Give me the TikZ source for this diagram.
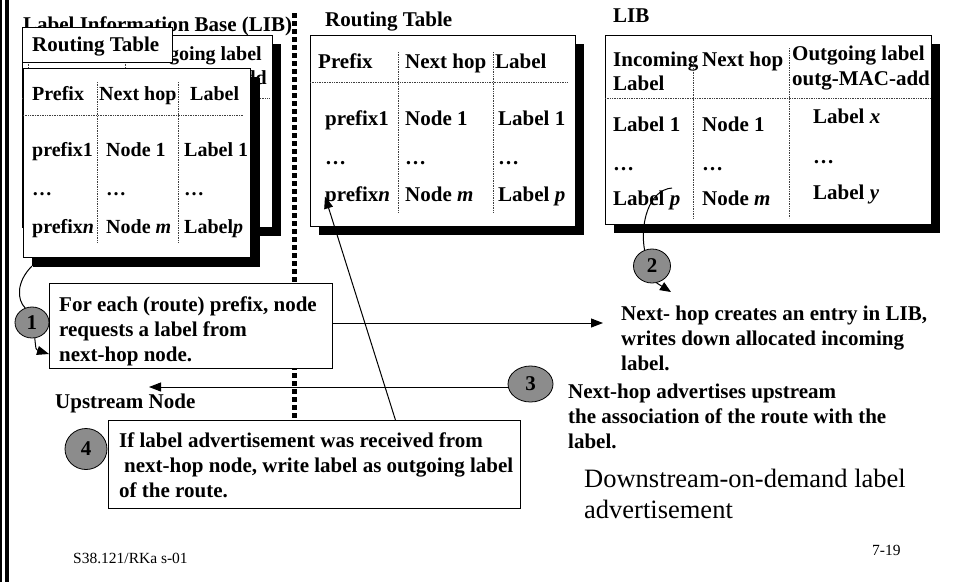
\documentclass[tikz,border=0pt]{standalone}
\usepackage{fontspec}
\setmainfont{Liberation Serif}
\usetikzlibrary{arrows.meta,shapes.geometric,shadows,positioning}

\newcommand{\msgfont}{\fontsize{21}{25}\selectfont\bfseries}
\newcommand{\smtabfont}{\fontsize{20}{24}\selectfont\bfseries}
\newcommand{\bigfont}{\fontsize{26.5}{31}\selectfont}
\newcommand{\footfont}{\fontsize{15.5}{18}\selectfont}

\begin{document}
\begin{tikzpicture}
  [x=1pt,y=-1pt,
   every node/.style={inner sep=0pt},
   cell/.style={font=\msgfont,anchor=base west},
   lcell/.style={font=\smtabfont,anchor=base west},
   txt/.style={font=\msgfont,align=left,anchor=north west},
   tbl/.style={draw,fill=white,line width=0.9pt,anchor=north west,
     drop shadow={shadow xshift=9pt,shadow yshift=-9pt,opacity=1,fill=black}},
   sep/.style={densely dotted,line width=0.7pt,black!75},
   numdot/.style={ellipse,draw,fill=black!45,line width=0.8pt,font=\msgfont},
   msgbox/.style={draw,fill=white,line width=0.9pt,anchor=north west},
   link/.style={line width=1pt},
   arr/.style={line width=1pt,-{Triangle[length=12pt,width=9pt]}}]
  \useasboundingbox (0,0) rectangle (953,582);

  % page frame
  \draw[line width=1.5pt] (0.75,0) -- (0.75,582);
  \draw[line width=4pt] (7,0) -- (7,582);

  % upstream node: LIB behind routing table
  \node[cell] (lib-ttl) at (23,31.7) {Label Information Base (LIB)};
  \node[tbl,minimum width=250pt,minimum height=192pt] (bt) at (22,35) {};
  \node[lcell,anchor=base east] (bt-out) at (262,60) {Outgoing label};
  \node[lcell,anchor=base east] (bt-mac) at (267,84) {outg-MAC-add};
  \draw[sep] (22,98) -- (269,98);
  \foreach \x in {28,125}
    \draw[sep] (\x,50) -- (\x,222);

  \node[msgbox,minimum width=150pt,minimum height=35pt] (ft-ttlbox) at (22,27) {};
  \node[cell] (ft-ttl) at (32,51.5) {Routing Table};

  \node[tbl,minimum width=227pt,minimum height=189pt,
    drop shadow={shadow xshift=10pt,shadow yshift=-10pt,opacity=1,fill=black}] (ft) at (23,68) {};
  \node[lcell] (ft-h1) at (32,100.7) {Prefix};
  \node[lcell] (ft-h2) at (99,100.7) {Next hop};
  \node[lcell] (ft-h3) at (190,100.7) {Label};
  \node[lcell] (ft-p1) at (32,156.7) {prefix1};
  \node[lcell] (ft-n1) at (106,156.7) {Node 1};
  \node[lcell] (ft-l1) at (184,156.7) {Label 1};
  \node[lcell] (ft-d1) at (32,195) {…};
  \node[lcell] (ft-d2) at (106,195) {…};
  \node[lcell] (ft-d3) at (184,195) {…};
  \node[lcell] (ft-pn) at (32,233) {prefix\textit{n}};
  \node[lcell] (ft-nm) at (106,233) {Node \textit{m}};
  \node[lcell] (ft-lp) at (184,233) {Label\textit{p}};
  \draw[sep] (23,115) -- (243,115);
  \foreach \x in {97,178}
    \draw[sep] (\x,82) -- (\x,243);

  % divider
  \draw[line width=4.5pt,dash pattern=on 4.5pt off 3.5pt] (294.5,13) -- (294.5,508);

  % downstream node: routing table
  \node[cell] (mt-ttl) at (325,26.7) {Routing Table};
  \node[tbl,minimum width=265pt,minimum height=191pt] (mt) at (310,35) {};
  \node[cell] (mt-h1) at (318,68.3) {Prefix};
  \node[cell] (mt-h2) at (405,68.3) {Next hop};
  \node[cell] (mt-h3) at (495,68.3) {Label};
  \node[cell] (mt-p1) at (325,125) {prefix1};
  \node[cell] (mt-n1) at (405,125) {Node 1};
  \node[cell] (mt-l1) at (498,125) {Label 1};
  \node[cell] (mt-d1) at (325,164) {…};
  \node[cell] (mt-d2) at (405,164) {…};
  \node[cell] (mt-d3) at (498,164) {…};
  \node[cell] (mt-pn) at (325,201.7) {prefix\textit{n}};
  \node[cell] (mt-nm) at (405,201.7) {Node \textit{m}};
  \node[cell] (mt-lp) at (498,201.7) {Label \textit{p}};
  \draw[sep] (310,82) -- (567,82);
  \foreach \x in {398,493}
    \draw[sep] (\x,52) -- (\x,212);

  % downstream node: LIB
  \node[cell] (rt-ttl) at (613,22.7) {LIB};
  \node[tbl,minimum width=326pt,minimum height=189pt] (rt) at (605,35) {};
  \node[cell] (rt-h1) at (613,66.7) {Incoming};
  \node[cell] (rt-h1b) at (613,90.7) {Label};
  \node[cell] (rt-h2) at (702,66.7) {Next hop};
  \node[cell] (rt-h3) at (792,60) {Outgoing label};
  \node[cell] (rt-h3b) at (792,85) {outg-MAC-add};
  \node[cell] (rt-i1) at (613,131.7) {Label 1};
  \node[cell] (rt-n1) at (702,131.7) {Node 1};
  \node[cell] (rt-o1) at (813,123.3) {Label \textit{x}};
  \node[cell] (rt-d1) at (613,170) {…};
  \node[cell] (rt-d2) at (702,170) {…};
  \node[cell] (rt-d3) at (813,163.3) {…};
  \node[cell] (rt-ip) at (613,205) {Label \textit{p}};
  \node[cell] (rt-nm) at (702,205) {Node \textit{m}};
  \node[cell] (rt-oy) at (813,199.3) {Label \textit{y}};
  \draw[sep] (605,98) -- (931,98);
  \draw[sep] (693,63) -- (693,218);
  \draw[sep] (789,48) -- (789,218);

  % step 1
  \node[msgbox,minimum width=283pt,minimum height=85pt] (req) at (49,283) {};
  \node[txt] (req-t) at (59,297) {For each (route) prefix, node\\requests a label from\\next-hop node.};
  \coordinate (ft-out) at (32,266);
  \coordinate (req-in) at (49,354);
  \node[numdot,minimum width=34pt,minimum height=31pt] (c1) at (32,322.5) {1};
  \draw[link] (ft-out) .. controls (16,282) and (17,300) .. (c1.115);
  \draw[arr] (c1.-80) .. controls (36,350) .. (req-in);
  \coordinate (nh) at (603,323);
  \draw[arr] (req.east |- nh) -- (nh);

  % step 2
  \node[txt] (nh-txt) at (621,306) {Next- hop creates an entry in LIB,\\writes down allocated incoming\\label.};
  \coordinate (lp) at (672,188);
  \coordinate (nh-t) at (671,292);
  \node[numdot,minimum width=37pt,minimum height=34pt] (c2) at (652,266) {2};
  \draw[link] (lp) .. controls (648,190) and (640,225) .. (c2.115);
  \draw[line width=1pt,-{Triangle[length=11pt,width=9pt]}] (c2.-75) -- (nh-t);

  % step 3
  \node[numdot,minimum width=45pt,minimum height=36pt] (c3) at (530.5,384) {3};
  \coordinate (up) at (149,387);
  \draw[arr] (c3.west |- up) -- (up);
  \node[cell] (upn) at (55,408) {Upstream Node};
  \node[txt] (adv-txt) at (568,384) {Next-hop advertises upstream\\the association of the route with the\\label.};

  % step 4
  \node[numdot,minimum width=42pt,minimum height=41pt] (c4) at (86,449) {4};
  \node[msgbox,minimum width=412pt,minimum height=88pt] (dec) at (108,420) {};
  \node[txt] (dec-t) at (119,433) {If label advertisement was received from\\\hspace*{5pt}next-hop node, write label as outgoing label\\of the route.};
  \draw[arr] ([xshift=81pt]dec.north) -- (mt-pn.west);

  \node[txt,font=\bigfont] (ttl) at (584,469) {Downstream-on-demand label\\advertisement};
  \node[cell,font=\footfont] (ftl) at (73,563) {S38.121/RKa s-01};
  \node[cell,font=\footfont] (pg) at (872,555) {7-19};

\end{tikzpicture}
\end{document}
